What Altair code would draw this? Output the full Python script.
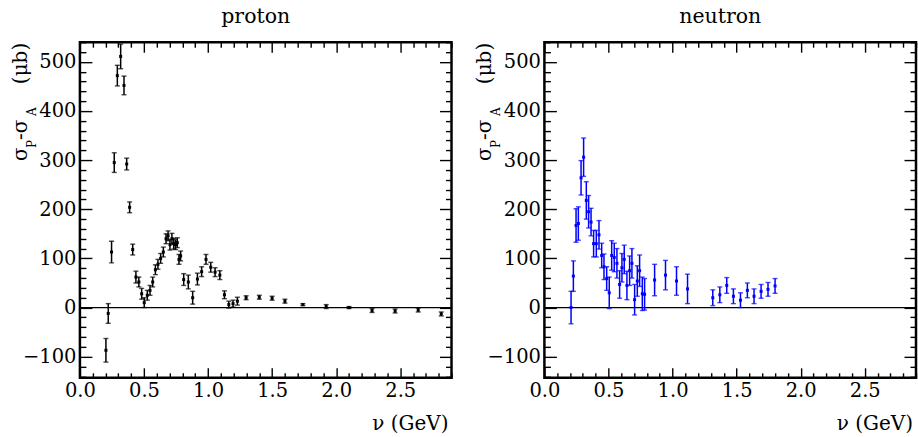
import altair as alt
import pandas as pd

# ---------------- data ----------------
proton_nu = [0.203, 0.221, 0.247, 0.268, 0.292, 0.318, 0.344, 0.365, 0.388, 0.412, 0.437, 0.460, 0.482, 0.502,
             0.526, 0.547, 0.568, 0.589, 0.609, 0.630, 0.651, 0.672, 0.688, 0.703, 0.718, 0.732, 0.746, 0.760, 0.773, 0.786,
             0.810, 0.846, 0.880, 0.917, 0.950, 0.984, 1.021, 1.055, 1.092, 1.128, 1.162, 1.195, 1.229,
             1.297, 1.400, 1.500, 1.600, 1.740, 1.922, 2.100, 2.280, 2.460, 2.640, 2.820]
proton_val = [-87, -12, 113, 295, 472, 511, 452, 292, 204, 118, 62, 52, 28, 10,
              25, 35, 52, 77, 88, 100, 113, 140, 146, 128, 140, 130, 128, 132, 98, 105,
              57, 52, 20, 58, 73, 98, 82, 72, 66, 26, 6, 8, 13,
              20, 21, 19, 13, 6, 2, 0, -6, -7, -5, -13]
proton_err = [24, 20, 22, 20, 21, 25, 19, 12, 11, 11, 12, 10, 11, 10,
              10, 10, 10, 10, 10, 10, 10, 10, 10, 11, 11, 11, 10, 10, 10, 10,
              12, 14, 13, 12, 10, 10, 10, 9, 9, 8, 7, 7, 8,
              4, 4, 4, 4, 2, 4, 2, 4, 4, 4, 4]

neutron_nu = [0.208, 0.226, 0.247, 0.265, 0.286, 0.306, 0.327, 0.345, 0.364, 0.384, 0.405, 0.426, 0.447, 0.465, 0.486, 0.506,
              0.525, 0.545, 0.566, 0.587, 0.605, 0.623, 0.644, 0.665, 0.683, 0.704, 0.725, 0.743, 0.764, 0.782,
              0.860, 0.945, 1.031, 1.117,
              1.314, 1.369, 1.423, 1.475, 1.530, 1.584, 1.636, 1.691, 1.745, 1.800]
neutron_val = [0, 64, 167, 171, 264, 306, 218, 195, 174, 130, 130, 148, 106, 83, 59, 30,
               106, 102, 90, 47, 81, 98, 45, 75, 90, 16, 54, 75, 28, 27,
               56, 66, 54, 38,
               20, 26, 45, 23, 15, 35, 23, 33, 37, 44]
neutron_err = [33, 31, 34, 34, 35, 39, 38, 33, 28, 27, 27, 29, 25, 26, 24, 32,
               30, 29, 30, 28, 29, 29, 29, 30, 30, 31, 31, 32, 34, 32,
               32, 30, 29, 30,
               16, 16, 16, 15, 15, 15, 15, 14, 14, 15]

panel_titles = ["proton", "neutron"]
x_title = ["ν  (GeV)"]
y_title_parts = ["σ", "P", "-σ", "A", "(μb)"]

x_major = [0.0, 0.5, 1.0, 1.5, 2.0, 2.5]
x_minor = [0.1, 0.2, 0.3, 0.4, 0.6, 0.7, 0.8, 0.9, 1.1, 1.2, 1.3, 1.4, 1.6, 1.7, 1.8, 1.9,
           2.1, 2.2, 2.3, 2.4, 2.6, 2.7, 2.8, 2.9]
y_major = [-100, 0, 100, 200, 300, 400, 500]
y_minor = [-140, -120, -80, -60, -40, -20, 20, 40, 60, 80, 120, 140, 160, 180, 220, 240, 260, 280,
           320, 340, 360, 380, 420, 440, 460, 480, 520, 540]

# ---------------- layout / style ----------------
FONT = "DejaVu Serif"
LABEL_SIZE = 19.5
W, H = 372, 336
XDOM = [0, 2.9]
YDOM = [-143, 540]

# y title pieces: (x of baseline, start y, font size) relative to the plot area
ytitle_layout = [(-53, 119, 20), (-44, 106, 12), (-53, 98, 20), (-44, 74, 12), (-53, 42, 20)]


def axis(orient, values, size, labels):
    kw = dict(orient=orient, values=values, tickSize=size, offset=-size, labels=labels,
              domain=False, grid=False, title=None, ticks=True,
              tickColor="black", tickWidth=1.4)
    if labels:
        kw.update(labelFont=FONT, labelFontSize=LABEL_SIZE, labelColor="black", labelPadding=4,
                  labelFlush=False, labelOverlap=False, labelBound=False)
    return alt.Axis(**kw)


def text_layer(s, x, y, size, angle=0, align="left"):
    return alt.Chart(pd.DataFrame({"t": [s]})).mark_text(
        font=FONT, fontSize=size, angle=angle, align=align, baseline="alphabetic", color="black"
    ).encode(text="t:N", x=alt.value(x), y=alt.value(y))


def panel(nu, val, err, color, name):
    df = pd.DataFrame({
        "nu": nu, "val": val,
        "lo": [v - e for v, e in zip(val, err)],
        "hi": [v + e for v, e in zip(val, err)],
    })
    xs = alt.Scale(domain=XDOM, nice=False, zero=False)
    ys = alt.Scale(domain=YDOM, nice=False, zero=False)
    base = alt.Chart(df)

    zero = alt.Chart(pd.DataFrame({"z": [0]})).mark_rule(color="black", strokeWidth=1.2).encode(
        y=alt.Y("z:Q", scale=ys, axis=None))
    bars = base.mark_rule(color=color, strokeWidth=1.5).encode(
        x=alt.X("nu:Q", scale=xs, axis=axis("bottom", x_major, 10, True)),
        y=alt.Y("lo:Q", scale=ys, axis=axis("left", y_major, 12, True)),
        y2="hi:Q")
    cap_lo = base.mark_tick(color=color, orient="horizontal", size=5, thickness=1.4).encode(
        x=alt.X("nu:Q", scale=xs, axis=axis("bottom", x_minor, 5, False)),
        y=alt.Y("lo:Q", scale=ys, axis=axis("left", y_minor, 6, False)))
    cap_hi = base.mark_tick(color=color, orient="horizontal", size=5, thickness=1.4).encode(
        x=alt.X("nu:Q", scale=xs, axis=axis("top", x_major, 10, False)),
        y=alt.Y("hi:Q", scale=ys, axis=axis("right", y_major, 12, False)))
    pts = base.mark_square(color=color, size=9, opacity=1).encode(
        x=alt.X("nu:Q", scale=xs, axis=axis("top", x_minor, 5, False)),
        y=alt.Y("val:Q", scale=ys, axis=axis("right", y_minor, 6, False)))

    texts = [text_layer(name, 176, -19, 20.5, align="center"),
             text_layer(x_title[0], 369, 388, 20, align="right")]
    for s, (tx, ty, fs) in zip(y_title_parts, ytitle_layout):
        texts.append(text_layer(s, tx, ty, fs, angle=270))

    return alt.layer(zero, bars, cap_lo, cap_hi, pts, *texts).resolve_axis(
        x="independent", y="independent").properties(width=W, height=H)


left = panel(proton_nu, proton_val, proton_err, "black", panel_titles[0])
right = panel(neutron_nu, neutron_val, neutron_err, "#0000ff", panel_titles[1])

chart = alt.hconcat(left, right, spacing=20).properties(
    padding={"left": 9, "top": 5, "right": 0, "bottom": 0}, background="white"
).configure_view(stroke="black", strokeWidth=2.5)

chart.save("out.html", embed_options={"renderer": "svg", "actions": False})
